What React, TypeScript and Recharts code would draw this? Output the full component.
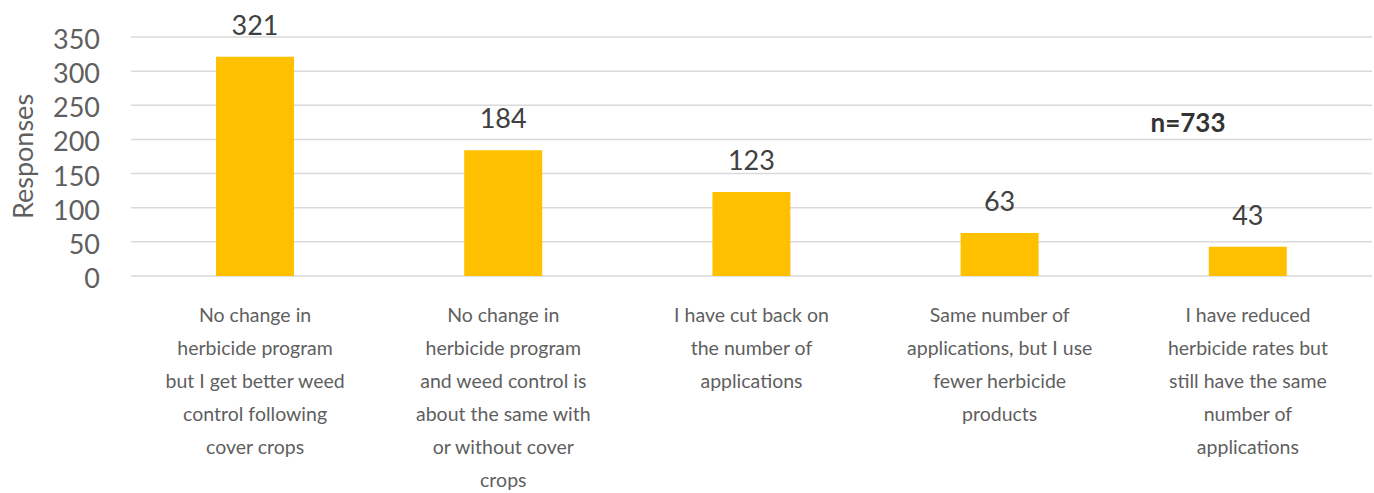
import { BarChart, Bar, XAxis, YAxis, CartesianGrid, LabelList, Label } from "recharts";

const categories = [
  "No change in\nherbicide program\nbut I get better weed\ncontrol following\ncover crops",
  "No change in\nherbicide program\nand weed control is\nabout the same with\nor without cover\ncrops",
  "I have cut back on\nthe number of\napplications",
  "Same number of\napplications, but I use\nfewer herbicide\nproducts",
  "I have reduced\nherbicide rates but\nstill have the same\nnumber of\napplications",
];
const responses = [321, 184, 123, 63, 43];
const yTicks = [0, 50, 100, 150, 200, 250, 300, 350];
const sampleNote = "n=733";

const data = categories.map((name, i) => ({ name, value: responses[i] }));

const FONT = "Lato, 'Open Sans', sans-serif";

const CategoryTick = (props: any) => {
  const { x, y, payload } = props;
  const lines = String(payload.value).split("\n");
  return (
    <text x={x} y={y} textAnchor="middle" fill="#5f5f5f" fontSize={19.5} fontFamily={FONT}>
      {lines.map((line, i) => (
        <tspan key={i} x={x} dy={i === 0 ? 46 : 33}>
          {line}
        </tspan>
      ))}
    </text>
  );
};

const ValueTick = (props: any) => {
  const { x, y, payload } = props;
  return (
    <text x={x - 31} y={y} dy={12} textAnchor="end" fill="#5f5f5f" fontSize={27} fontFamily={FONT}>
      {payload.value}
    </text>
  );
};

export default function App() {
  return (
    <div style={{ position: "absolute", left: 0, top: 0, width: 1374, height: 493, background: "#fff" }}>
      <BarChart width={1374} height={493} data={data} margin={{ top: 37, right: 2, bottom: 0, left: 0 }}>
        <CartesianGrid vertical={false} stroke="#d9d9d9" strokeWidth={1.5} />
        <XAxis
          dataKey="name"
          axisLine={false}
          tickLine={false}
          tickSize={0}
          tickMargin={0}
          height={217}
          interval={0}
          tick={<CategoryTick />}
        />
        <YAxis
          domain={[0, 350]}
          ticks={yTicks}
          width={131}
          axisLine={false}
          tickLine={false}
          tickSize={0}
          tickMargin={0}
          tick={<ValueTick />}
        >
          <Label
            content={(p: any) => {
              const vb = p.viewBox;
              const cx = vb.x + 22;
              const cy = vb.y + vb.height / 2;
              return (
                <text
                  x={cx}
                  y={cy}
                  transform={`rotate(-90, ${cx}, ${cy})`}
                  textAnchor="middle"
                  dominantBaseline="central"
                  fill="#5f5f5f"
                  fontSize={27}
                  fontFamily={FONT}
                >
                  Responses
                </text>
              );
            }}
          />
        </YAxis>
        <Bar dataKey="value" fill="#FFC000" barSize={78} isAnimationActive={false}>
          <LabelList dataKey="value" position="top" offset={22} fill="#404040" fontSize={27} fontFamily={FONT} />
        </Bar>
      </BarChart>
      <div
        style={{
          position: "absolute",
          left: 1188,
          top: 122,
          transform: "translate(-50%, -50%)",
          fontFamily: FONT,
          fontWeight: 700,
          fontSize: 26,
          color: "#333",
          whiteSpace: "nowrap",
        }}
      >
        {sampleNote}
      </div>
    </div>
  );
}
